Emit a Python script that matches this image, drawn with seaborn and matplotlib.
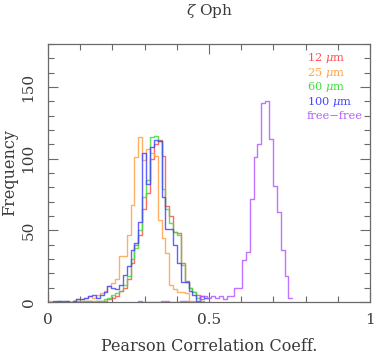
import numpy as np
import pandas as pd
import matplotlib
matplotlib.use("Agg")
import matplotlib.pyplot as plt
from matplotlib.ticker import MultipleLocator, FixedLocator
import seaborn as sns

# ---------------- data (counts per bin) ----------------
bin_width = 0.012
ir_first_edge = -0.0075     # first bin edge of the infrared histograms
ff_first_edge = 0.2665      # first bin edge of the free-free histogram

counts_12um = [0, 0, 0, 0, 0, 0, 0, 1, 0, 0, 1, 1, 0, 1, 1, 1, 2, 3, 4, 8, 10,
               16, 27, 40, 47, 65, 76, 100, 110, 113, 102, 67, 60, 49, 48, 27, 15,
               10, 7, 5, 2, 0, 0]
counts_25um = [1, 1, 0, 0, 0, 1, 0, 1, 2, 2, 3, 4, 3, 5, 6, 8, 11, 13, 16, 32, 32,
               47, 68, 101, 115, 99, 107, 104, 102, 57, 45, 34, 12, 9, 7, 7, 6,
               1, 1, 0, 0, 0, 0]
counts_60um = [0, 0, 0, 1, 0, 0, 0, 1, 1, 1, 1, 1, 1, 1, 1, 2, 3, 5, 6, 8, 12,
               18, 30, 38, 50, 73, 85, 115, 116, 112, 79, 65, 55, 49, 47, 26, 14,
               10, 7, 3, 1, 0, 0]
counts_100um = [0, 0, 1, 1, 1, 1, 0, 1, 2, 2, 3, 4, 5, 3, 5, 7, 11, 10, 9, 12, 19,
                25, 36, 41, 56, 104, 82, 108, 113, 112, 73, 51, 51, 40, 27, 14, 14,
                8, 5, 1, 4, 3, 0]
counts_freefree = [0, 1, 0, 0, 0, 0, 0, 1, 1, 0, 0, 0, 1, 1, 0, 0, 0, 4, 4, 3,
                   4, 3, 4, 2, 4, 4, 10, 10, 29, 35, 72, 101, 110, 139, 140, 114,
                   81, 63, 36, 18, 3]

labels = ["12 $\\mu$m", "25 $\\mu$m", "60 $\\mu$m", "100 $\\mu$m", "free\u2212free"]
colors = ["#ff5050", "#ffa348", "#3ee03e", "#4646ff", "#b45cff"]

x_ticks = [0, 0.5, 1]
x_tick_labels = ["0", "0.5", "1"]
y_ticks = [0, 50, 100, 150]
y_tick_labels = ["0", "50", "100", "150"]

title = "$\\zeta$ Oph"
xlabel = "Pearson Correlation Coeff."
ylabel = "Frequency"

# ---------------- styling ----------------
sns.set_style("ticks")
plt.rcParams["font.family"] = ["DejaVu Serif", "DejaVu Sans"]
plt.rcParams["mathtext.fontset"] = "dejavuserif"
text_color = "#3a3a3a"
frame_color = "#6a6a6a"

fig = plt.figure(figsize=(3.74, 3.56), dpi=100)
ax = fig.add_axes([48 / 374, 1 - 302 / 356, 322 / 374, 258 / 356])


def series_frame(counts, first_edge):
    counts = np.asarray(counts, dtype=float)
    nz = np.nonzero(counts)[0]
    lo, hi = nz[0], nz[-1] + 1
    edges = first_edge + bin_width * np.arange(len(counts) + 1)
    edges = edges[lo:hi + 1]
    centers = 0.5 * (edges[:-1] + edges[1:])
    return pd.DataFrame({"coef": centers, "count": counts[lo:hi]}), [float(e) for e in edges]


series = [(counts_12um, ir_first_edge), (counts_25um, ir_first_edge),
          (counts_60um, ir_first_edge), (counts_100um, ir_first_edge),
          (counts_freefree, ff_first_edge)]

for (cnts, fe), col in zip(series, colors):
    df, edges = series_frame(cnts, fe)
    sns.histplot(data=df, x="coef", weights="count", bins=edges,
                 element="step", fill=False, color=col, linewidth=1.0,
                 alpha=0.85, ax=ax)

ax.set_xlim(0, 1)
ax.set_ylim(0, 180)
ax.xaxis.set_major_locator(FixedLocator(x_ticks))
ax.set_xticklabels(x_tick_labels)
ax.xaxis.set_minor_locator(MultipleLocator(0.1))
ax.yaxis.set_major_locator(FixedLocator(y_ticks))
ax.set_yticklabels(y_tick_labels, rotation=90, va="center")
ax.yaxis.set_minor_locator(MultipleLocator(10))

ax.tick_params(which="both", direction="in", top=True, right=True,
               color=frame_color, width=0.8, labelcolor=text_color,
               labelsize=11)
ax.tick_params(which="major", length=7)
ax.tick_params(which="minor", length=4)
ax.tick_params(axis="x", pad=8)
ax.tick_params(axis="y", pad=9)
for s in ax.spines.values():
    s.set_visible(True)
    s.set_color(frame_color)
    s.set_linewidth(0.9)

ax.set_xlabel(xlabel, fontsize=11.5, color=text_color)
ax.xaxis.set_label_coords(0.5, -0.138)
ax.set_ylabel(ylabel, fontsize=11.5, color=text_color)
ax.yaxis.set_label_coords(-0.093, 0.5)
ax.set_title(title, fontsize=11, color=text_color, pad=21)

for i, (lab, col) in enumerate(zip(labels, colors)):
    ax.text(0.804, 0.945 - i * 0.0565, lab, transform=ax.transAxes,
            color=col, fontsize=8.2, ha="left", va="center")

fig.savefig("out.png", dpi=100)
